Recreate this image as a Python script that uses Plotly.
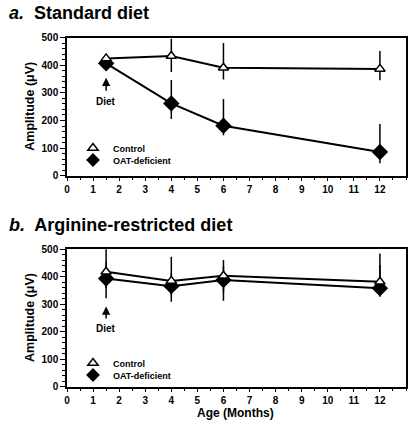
import plotly.graph_objects as go

# Data
ages = [1.5, 4, 6, 12]

a_control = [425, 434, 391, 387]
a_control_plus = [0, 62, 90, 65]
a_control_minus = [0, 58, 42, 41]
a_oat = [407, 262, 181, 86]
a_oat_plus = [0, 85, 97, 101]
a_oat_minus = [0, 57, 34, 41]

b_control = [418, 385, 404, 382]
b_control_plus = [95, 88, 57, 103]
b_control_minus = [60, 50, 60, 40]
b_oat = [394, 366, 388, 358]
b_oat_plus = [61, 47, 50, 85]
b_oat_minus = [72, 57, 75, 31]

x_ticks = [0, 1, 2, 3, 4, 5, 6, 7, 8, 9, 10, 11, 12]
y_ticks = [0, 100, 200, 300, 400, 500]

W, H = 417, 423
FONT = "Liberation Sans"

fig = go.Figure()

def add_series(xax, yax, y, plus, minus, symbol, fill, size):
    fig.add_trace(go.Scatter(
        x=ages, y=y, xaxis=xax, yaxis=yax, mode="lines+markers",
        line=dict(color="black", width=2),
        marker=dict(symbol=symbol, size=size, color=fill,
                    line=dict(color="black", width=1.5)),
        error_y=dict(type="data", array=plus, arrayminus=minus,
                     color="black", thickness=1.5, width=0, symmetric=False),
        showlegend=False, cliponaxis=True))

add_series("x", "y", a_oat, a_oat_plus, a_oat_minus, "diamond", "black", 11)
add_series("x", "y", a_control, a_control_plus, a_control_minus, "triangle-up", "white", 9)
add_series("x2", "y2", b_oat, b_oat_plus, b_oat_minus, "diamond", "black", 11)
add_series("x2", "y2", b_control, b_control_plus, b_control_minus, "triangle-up", "white", 9)

# legend entries (one legend per entry so spacing can match the reference)
legend_specs = [
    ("legend", "Control", "triangle-up", "white", 9, "x", "y"),
    ("legend2", "OAT-deficient", "diamond", "black", 9, "x", "y"),
    ("legend3", "Control", "triangle-up", "white", 9, "x2", "y2"),
    ("legend4", "OAT-deficient", "diamond", "black", 9, "x2", "y2"),
]
for leg, name, sym, fill, size, xa, ya in legend_specs:
    fig.add_trace(go.Scatter(x=[None], y=[None], mode="markers", name=name,
                             marker=dict(symbol=sym, size=size, color=fill,
                                         line=dict(color="black", width=1.5)),
                             legend=leg, xaxis=xa, yaxis=ya))

xdom = [67 / W, 406 / W]
ya_dom = [1 - 175.7 / H, 1 - 37.7 / H]
yb_dom = [1 - 386.7 / H, 1 - 249.3 / H]

tickfont = dict(family=FONT, size=10, color="black", weight="bold")

def xaxis(domain, anchor):
    return dict(domain=domain, anchor=anchor, range=[0, 13], tickvals=x_ticks,
                ticks="outside", ticklen=4, tickwidth=1.2, tickcolor="black",
                showline=True, linecolor="black", linewidth=1.5, mirror=True,
                showgrid=False, zeroline=False, tickfont=tickfont, automargin=False,
                minor=dict(dtick=0.5, tick0=0, ticks="outside", ticklen=3,
                           tickcolor="black", tickwidth=1, showgrid=False))

def yaxis(domain, anchor):
    return dict(domain=domain, anchor=anchor, range=[0, 500], tickvals=y_ticks,
                ticks="outside", ticklen=5, tickwidth=1.2, tickcolor="black",
                showline=True, linecolor="black", linewidth=1.5, mirror=True,
                showgrid=False, zeroline=False, tickfont=tickfont, automargin=False,
                minor=dict(dtick=20, tick0=0, ticks="outside", ticklen=3,
                           tickcolor="black", tickwidth=1, showgrid=False))

legfont = dict(family=FONT, size=9, color="black", weight="bold")

def legend_at(xpx, ypx):
    return dict(x=xpx / W, y=1 - ypx / H, xanchor="left", yanchor="middle",
                font=legfont, itemwidth=30, tracegroupgap=0,
                bgcolor="rgba(0,0,0,0)", borderwidth=0)

fig.update_layout(
    width=W, height=H,
    margin=dict(l=0, r=0, t=0, b=0, autoexpand=False),
    paper_bgcolor="white", plot_bgcolor="white",
    xaxis=xaxis(xdom, "y"),
    yaxis=yaxis(ya_dom, "x"),
    xaxis2=xaxis(xdom, "y2"),
    yaxis2=yaxis(yb_dom, "x2"),
    legend=legend_at(73, 148),
    legend2=legend_at(73, 160),
    legend3=legend_at(73, 363),
    legend4=legend_at(73, 375),
    showlegend=True,
)

ann = []
# panel titles
ann.append(dict(x=7 / W, y=1 - 13 / H, xref="paper", yref="paper", xanchor="left",
                yanchor="middle", showarrow=False,
                text="<b><i>a.</i>  Standard diet</b>",
                font=dict(family=FONT, size=18, color="black")))
ann.append(dict(x=7 / W, y=1 - 225 / H, xref="paper", yref="paper", xanchor="left",
                yanchor="middle", showarrow=False,
                text="<b><i>b.</i>  Arginine-restricted diet</b>",
                font=dict(family=FONT, size=18, color="black")))
# y-axis titles
for yc in [(37.7 + 175.7) / 2, (249.3 + 386.7) / 2]:
    ann.append(dict(x=30 / W, y=1 - yc / H, xref="paper", yref="paper",
                    xanchor="center", yanchor="middle", showarrow=False,
                    textangle=-90, text="<b>Amplitude (μV)</b>",
                    font=dict(family=FONT, size=12.5, color="black")))
# x-axis title
ann.append(dict(x=235 / W, y=1 - 412.5 / H, xref="paper", yref="paper",
                xanchor="center", yanchor="middle", showarrow=False,
                text="<b>Age (Months)</b>",
                font=dict(family=FONT, size=12, color="black")))
# Diet arrows
for xr, yr, tip, tail, lab in [("x", "y", 355, 302, 268), ("x2", "y2", 292, 243, 210)]:
    ann.append(dict(x=1.5, y=tip, ax=1.5, ay=tail, xref=xr, yref=yr, axref=xr, ayref=yr,
                    text="", showarrow=True, arrowhead=2, arrowsize=1.1, arrowwidth=1.5,
                    arrowcolor="black", standoff=0, startstandoff=0))
    ann.append(dict(x=1.5, y=lab, xref=xr, yref=yr, showarrow=False, text="<b>Diet</b>",
                    font=dict(family=FONT, size=10, color="black"),
                    xanchor="center", yanchor="middle"))

fig.update_layout(annotations=ann)

fig.write_html("out.html", config={"displayModeBar": False},
               post_script="document.body.style.margin='0';document.body.style.padding='0';"
                           "document.documentElement.style.overflow='hidden';")
